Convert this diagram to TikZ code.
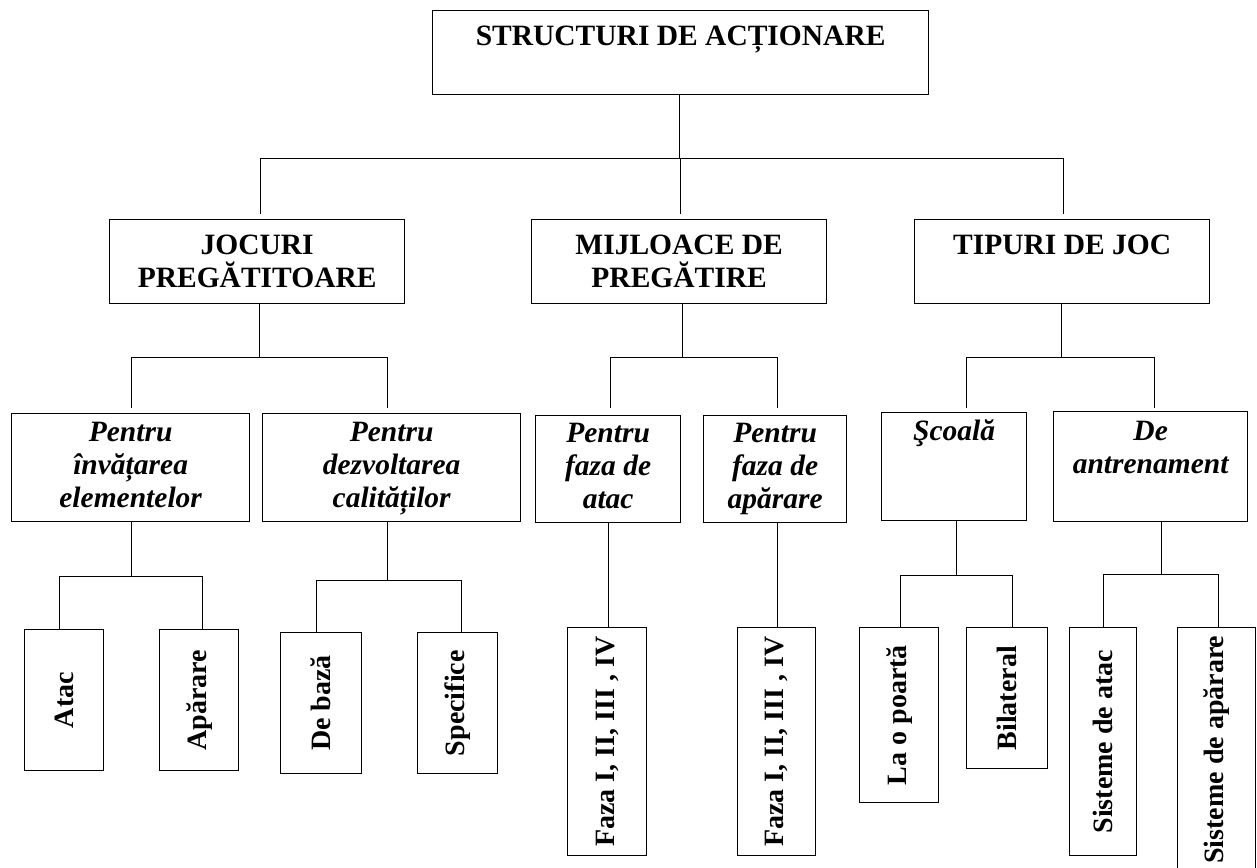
\documentclass[tikz,border=0pt]{standalone}
\usepackage{fontspec}
\usepackage{graphicx}
\setmainfont{Liberation Serif}
\begin{document}
\begin{tikzpicture}[x=1pt,y=-1pt,
  box/.style={draw, line width=1.3pt, inner sep=0pt, anchor=north west, align=center},
  caps/.style={font=\fontsize{29.5}{33}\selectfont\bfseries},
  ital/.style={font=\fontsize{29.5}{33}\selectfont\bfseries\itshape},
  vert/.style={font=\fontsize{28}{33}\selectfont\bfseries},
  conn/.style={line width=1.3pt},
  gap/.style={shorten >=#1pt}]
\useasboundingbox (0,0) rectangle (1257,867);
\clip (0,0) rectangle (1257,867);

% level 0
\node[box,caps,minimum width=496pt,minimum height=84pt] (top) at (432,10) {STRUCTURI DE ACȚIONARE\\\mbox{}};

% level 1
\node[box,caps,minimum width=295pt,minimum height=84pt] (jp) at (109,219) {JOCURI\\PREGĂTITOARE};
\node[box,caps,minimum width=295pt,minimum height=84pt] (mp) at (531,219) {MIJLOACE DE\\PREGĂTIRE};
\node[box,caps,minimum width=295pt,minimum height=84pt] (tj) at (914,219) {TIPURI DE JOC\\\mbox{}};

% level 2
\node[box,ital,minimum width=238pt,minimum height=108pt] (b1) at (11,413) {\strut Pentru\\\strut învățarea\\\strut elementelor};
\node[box,ital,minimum width=258pt,minimum height=108pt] (b2) at (262,413) {\strut Pentru\\\strut dezvoltarea\\\strut calităților};
\node[box,ital,minimum width=145pt,minimum height=107pt] (b3) at (535,415) {\strut Pentru\\\strut faza de\\\strut atac};
\node[box,ital,minimum width=143pt,minimum height=107pt] (b4) at (703,415) {\strut Pentru\\\strut faza de\\\strut apărare};
\node[box,ital,minimum width=145pt,minimum height=108pt] (b5) at (881,412) {\strut Şcoală\\\strut\\\strut};
\node[box,ital,minimum width=194pt,minimum height=110pt] (b6) at (1053,411) {\strut De\\\strut antrenament\\\strut};

% level 3
\node[box,vert,minimum width=79pt,minimum height=141pt] (c1) at (24,629) {\rotatebox{90}{Atac}};
\node[box,vert,minimum width=79pt,minimum height=141pt] (c2) at (159,629) {\rotatebox{90}{Apărare}};
\node[box,vert,minimum width=81pt,minimum height=141pt] (c3) at (280,632) {\rotatebox{90}{De bază}};
\node[box,vert,minimum width=80pt,minimum height=141pt] (c4) at (417,632) {\rotatebox{90}{Specifice}};
\node[box,vert,minimum width=79pt,minimum height=228pt] (c5) at (567,627) {\rotatebox{90}{Faza I, II, III , IV}};
\node[box,vert,minimum width=78pt,minimum height=228pt] (c6) at (737,627) {\rotatebox{90}{Faza I, II, III , IV}};
\node[box,vert,minimum width=79pt,minimum height=175pt] (c7) at (859,627) {\rotatebox{90}{La o poartă}};
\node[box,vert,minimum width=81pt,minimum height=141pt] (c8) at (966,627) {\rotatebox{90}{Bilateral}};
\node[box,vert,minimum width=67pt,minimum height=228pt] (c9) at (1069,627) {\rotatebox{90}{Sisteme de atac}};
\node[box,vert,minimum width=78pt,minimum height=244pt] (c10) at (1177,627) {\rotatebox{90}{Sisteme de apărare}};

% connectors level 0 -> 1
\draw[conn,gap=5] ([xshift=-1pt]top.south) -- ++(0,63) -| ([xshift=3.5pt]jp.north);
\draw[conn,gap=5] ([xshift=-1pt]top.south) -- ++(0,63) -| ([xshift=1.5pt]mp.north);
\draw[conn,gap=5] ([xshift=-1pt]top.south) -- ++(0,63) -| ([xshift=1.5pt]tj.north);

% connectors level 1 -> 2
\draw[conn,gap=5] ([xshift=2.5pt]jp.south) -- ++(0,53) -| ([xshift=1pt]b1.north);
\draw[conn,gap=5] ([xshift=2.5pt]jp.south) -- ++(0,53) -| ([xshift=-4pt]b2.north);
\draw[conn,gap=7] ([xshift=3.5pt]mp.south) -- ++(0,53) -| ([xshift=2.5pt]b3.north);
\draw[conn,gap=7] ([xshift=3.5pt]mp.south) -- ++(0,53) -| ([xshift=2.5pt]b4.north);
\draw[conn,gap=4] ([xshift=-0.5pt]tj.south) -- ++(0,53) -| ([xshift=12.5pt]b5.north);
\draw[conn,gap=3] ([xshift=-0.5pt]tj.south) -- ++(0,53) -| ([xshift=4pt]b6.north);

% connectors level 2 -> 3
\draw[conn] ([xshift=1pt]b1.south) -- ++(0,54) -| ([xshift=-4.5pt]c1.north);
\draw[conn] ([xshift=1pt]b1.south) -- ++(0,54) -| ([xshift=3.5pt]c2.north);
\draw[conn] ([xshift=-4pt]b2.south) -- ++(0,58) -| ([xshift=-4.5pt]c3.north);
\draw[conn] ([xshift=-4pt]b2.south) -- ++(0,58) -| ([xshift=4pt]c4.north);
\draw[conn] ([xshift=0.5pt]b3.south) -- ([xshift=1.5pt]c5.north);
\draw[conn] ([xshift=2.5pt]b4.south) -- ([xshift=1pt]c6.north);
\draw[conn] ([xshift=2.5pt]b5.south) -- ++(0,54) -| ([xshift=1.5pt]c7.north);
\draw[conn] ([xshift=2.5pt]b5.south) -- ++(0,54) -| ([xshift=5.5pt]c8.north);
\draw[conn] ([xshift=11pt]b6.south) -- ++(0,52) -| ([xshift=0.5pt]c9.north);
\draw[conn] ([xshift=11pt]b6.south) -- ++(0,52) -| ([xshift=2pt]c10.north);
\end{tikzpicture}
\end{document}
